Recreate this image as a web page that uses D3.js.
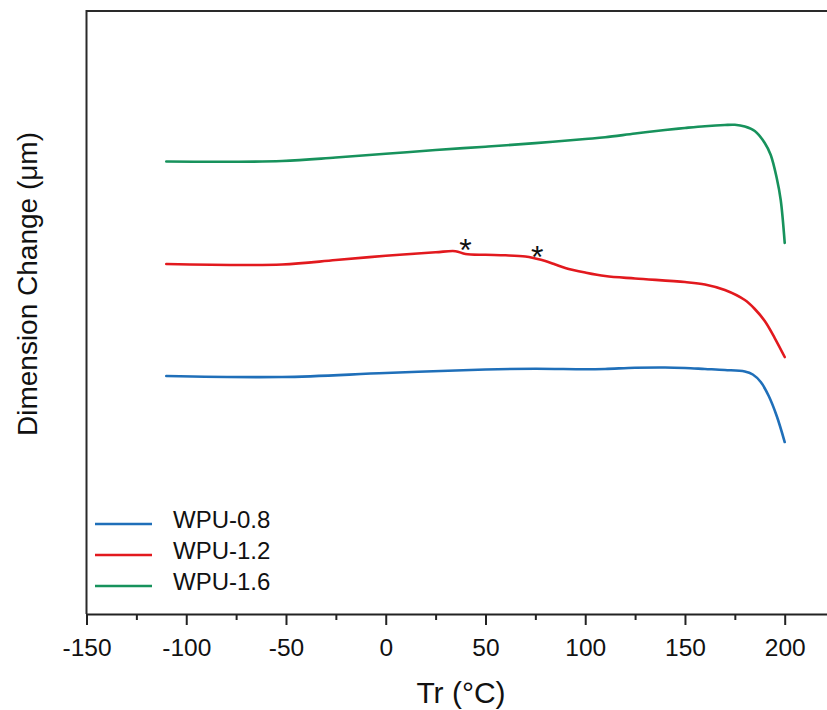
<!DOCTYPE html>
<html>
<head>
<meta charset="utf-8">
<script src="https://cdn.jsdelivr.net/npm/d3@7"></script>
<style>
  body { margin: 0; background: #fff; }
  svg { display: block; font-family: "Liberation Sans", Arial, sans-serif; }
</style>
</head>
<body>
<svg width="827" height="710"></svg>
<script>
// Datos (unidades arbitrarias en el eje Y)
const seriesNames = ["WPU-0.8", "WPU-1.2", "WPU-1.6"];
const seriesColors = ["#1f6fb9", "#e2191e", "#17925c"];

const tempBlue = [-110, -52, 0, 50, 75, 100, 110, 125, 140, 150, 160, 170, 180, 184, 188, 192, 196, 200];
const valBlue  = [23.68, 23.58, 23.98, 24.33, 24.40, 24.35, 24.38, 24.50, 24.53, 24.48, 24.38, 24.28, 24.13, 23.83, 23.08, 21.69, 19.70, 17.11];

const tempRed = [-110, -52, -25, 0, 25, 35, 40, 50, 60, 70, 75, 80, 85, 90, 100, 110, 125, 150, 160, 170, 180, 185, 190, 195, 200];
const valRed  = [34.83, 34.78, 35.22, 35.64, 35.99, 36.10, 35.82, 35.74, 35.69, 35.57, 35.37, 35.12, 34.78, 34.43, 33.98, 33.63, 33.38, 33.03, 32.79, 32.24, 31.24, 30.35, 29.15, 27.46, 25.57];

const tempGreen = [-110, -52, -25, 0, 25, 50, 75, 100, 110, 125, 140, 150, 160, 170, 175, 180, 185, 190, 193, 196, 198, 200];
const valGreen  = [45.02, 45.07, 45.42, 45.79, 46.17, 46.50, 46.85, 47.26, 47.43, 47.81, 48.16, 48.36, 48.54, 48.66, 48.68, 48.51, 48.06, 46.87, 45.67, 43.38, 41.19, 36.92];

// Asteriscos sobre la curva roja
const starTemps = [40, 76];
const starVals = [37.0, 36.3];

const xTicks = [-150, -100, -50, 0, 50, 100, 150, 200];
const xMinorTicks = [-125, -75, -25, 25, 75, 125, 175];

const svg = d3.select("svg");

// Escalas
const x = d3.scaleLinear().domain([-150, 221]).range([86.5, 826.6]);
const y = d3.scaleLinear().domain([0, 60]).range([614, 11]);

const series = [
  { name: seriesNames[0], color: seriesColors[0], temps: tempBlue, vals: valBlue },
  { name: seriesNames[1], color: seriesColors[1], temps: tempRed, vals: valRed },
  { name: seriesNames[2], color: seriesColors[2], temps: tempGreen, vals: valGreen }
];

// Marco: línea superior e izquierda
svg.append("line")
  .attr("x1", 86.5).attr("x2", 827).attr("y1", 11).attr("y2", 11)
  .attr("stroke", "#2a2a2a").attr("stroke-width", 2);
svg.append("line")
  .attr("x1", 86.5).attr("x2", 86.5).attr("y1", 10).attr("y2", 614)
  .attr("stroke", "#2a2a2a").attr("stroke-width", 2);

// Eje X (ticks menores primero)
svg.append("g")
  .attr("transform", "translate(0,614)")
  .call(d3.axisBottom(x).tickValues(xMinorTicks).tickSize(6).tickFormat(""))
  .call(g => g.select(".domain").remove())
  .call(g => g.selectAll("line").attr("stroke", "#222").attr("stroke-width", 2));

const xAxis = svg.append("g")
  .attr("transform", "translate(0,614)")
  .call(d3.axisBottom(x).tickValues(xTicks).tickSize(11).tickSizeOuter(0).tickFormat(d => String(d)));
xAxis.select(".domain").attr("stroke", "#222").attr("stroke-width", 2);
xAxis.selectAll(".tick line").attr("stroke", "#222").attr("stroke-width", 2);
xAxis.selectAll(".tick text")
  .attr("y", 42).attr("dy", null)
  .style("font-size", "24.5px")
  .style("fill", "#111")
  .style("font-family", "'Liberation Sans', Arial, sans-serif");

// Títulos de los ejes
svg.append("text")
  .attr("x", 461).attr("y", 703)
  .attr("text-anchor", "middle")
  .style("font-size", "30px").style("fill", "#111")
  .text("Tr (°C)");

svg.append("text")
  .attr("transform", "translate(37,284) rotate(-90)")
  .attr("text-anchor", "middle")
  .style("font-size", "28px").style("fill", "#111")
  .text("Dimension Change (μm)");

// Curvas
const line = d3.line()
  .x(d => x(d[0]))
  .y(d => y(d[1]))
  .curve(d3.curveCatmullRom.alpha(0.5));

svg.append("g")
  .selectAll("path")
  .data(series)
  .join("path")
  .attr("d", s => line(s.temps.map((t, i) => [t, s.vals[i]])))
  .attr("fill", "none")
  .attr("stroke", s => s.color)
  .attr("stroke-width", 2.6)
  .attr("stroke-linejoin", "round")
  .attr("stroke-linecap", "round");

// Asteriscos
svg.append("g")
  .selectAll("text")
  .data(starTemps)
  .join("text")
  .attr("x", d => x(d))
  .attr("y", (d, i) => y(starVals[i]) + 19)
  .attr("text-anchor", "middle")
  .style("font-size", "32px")
  .style("fill", "#111")
  .text("*");

// Leyenda
const legend = svg.append("g")
  .selectAll("g")
  .data(series)
  .join("g")
  .attr("transform", (d, i) => `translate(0,${524 + i * 31})`);

legend.append("line")
  .attr("x1", 95).attr("x2", 152)
  .attr("stroke", d => d.color)
  .attr("stroke-width", 2.6);

legend.append("text")
  .attr("x", 173).attr("y", 4)
  .style("font-size", "24px")
  .style("fill", "#111")
  .text(d => d.name);
</script>
</body>
</html>
